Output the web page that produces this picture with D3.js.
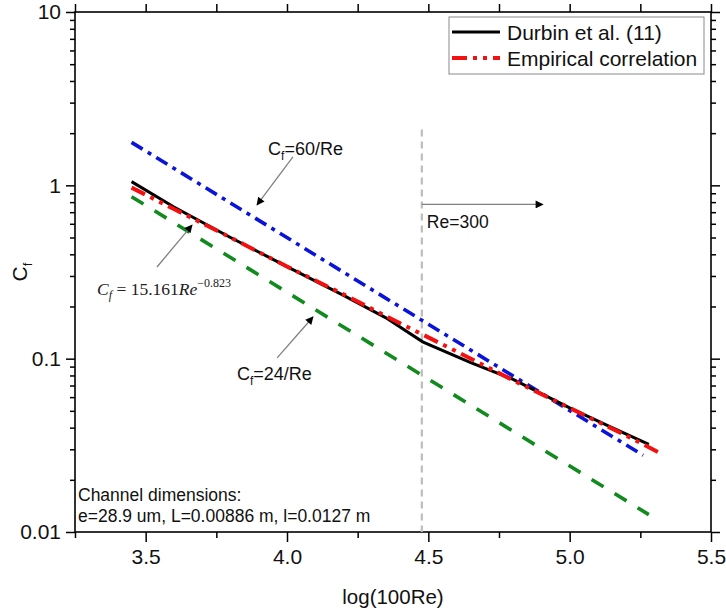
<!DOCTYPE html>
<html>
<head>
<meta charset="utf-8">
<script src="https://cdn.jsdelivr.net/npm/d3@7"></script>
<style>
  body { margin: 0; background: #fff; }
  svg { font-family: "Liberation Sans", Arial, sans-serif; }
</style>
</head>
<body>
<svg id="chart" width="726" height="610"></svg>
<script>
// x = log(100Re), y = Cf (log scale)
var xMajor = [3.5, 4.0, 4.5, 5.0, 5.5];
var xMajorLabels = ["3.5", "4.0", "4.5", "5.0", "5.5"];
var xMinor = [3.25, 3.75, 4.25, 4.75, 5.25];
var yMajor = [0.01, 0.1, 1, 10];
var yMajorLabels = ["0.01", "0.1", "1", "10"];

// Durbin et al. (11)
var durbinX = [3.45, 3.6, 3.8, 4.0, 4.2, 4.35, 4.48, 4.65, 4.8, 5.0, 5.15, 5.28];
var durbinY = [1.05, 0.75, 0.50, 0.34, 0.232, 0.172, 0.125, 0.095, 0.076, 0.052, 0.040, 0.032];
// empirical correlation Cf = 15.161 Re^-0.823
var empX = [3.45, 3.6, 3.8, 4.0, 4.2, 4.4, 4.6, 4.8, 5.0, 5.2, 5.32];
var empY = [0.97, 0.73, 0.50, 0.34, 0.235, 0.16, 0.11, 0.075, 0.052, 0.036, 0.0285];
// Cf = 60/Re
var c60X = [3.45, 4.5, 5.26];
var c60Y = [1.77, 0.158, 0.0277];
// Cf = 24/Re
var c24X = [3.45, 5.28];
var c24Y = [0.86, 0.0126];

var reLineX = 4.477;   // Re = 300
var reLineTop = 2.1;

var margin = {top: 12, left: 75, right: 15, bottom: 78};
var W = 726, H = 610;
var iw = W - margin.left - margin.right;
var ih = H - margin.top - margin.bottom;

var svg = d3.select('#chart');
var g = svg.append('g').attr('transform', 'translate(' + margin.left + ',' + margin.top + ')');

var x = d3.scaleLinear().domain([3.25, 5.5]).range([0, iw]);
var y = d3.scaleLog().domain([0.01, 10]).range([ih, 0]);

var yMinor = y.ticks().filter(function(d) { return yMajor.indexOf(d) < 0; });

function styleAxis(sel) {
	sel.select('.domain').remove();
	sel.selectAll('.tick line').attr('stroke', '#000').attr('stroke-width', 1.5);
	sel.selectAll('.tick text').attr('fill', '#111').style('font-size', '21px')
		.style('font-family', '"Liberation Sans", Arial, sans-serif');
}

// bottom
g.append('g').attr('transform', 'translate(0,' + ih + ')')
	.call(d3.axisBottom(x).tickValues(xMajor).tickSize(10).tickPadding(7)
		.tickFormat(function(d, i) { return xMajorLabels[i]; }))
	.call(styleAxis);
g.append('g').attr('transform', 'translate(0,' + ih + ')')
	.call(d3.axisBottom(x).tickValues(xMinor).tickSize(6).tickFormat(''))
	.call(styleAxis);
// top
g.append('g')
	.call(d3.axisTop(x).tickValues(xMajor.concat(xMinor)).tickSize(8).tickFormat(''))
	.call(styleAxis);
// left
g.append('g')
	.call(d3.axisLeft(y).tickValues(yMajor).tickSize(9).tickPadding(5)
		.tickFormat(function(d, i) { return yMajorLabels[i]; }))
	.call(styleAxis);
g.append('g')
	.call(d3.axisLeft(y).tickValues(yMinor).tickSize(5).tickFormat(''))
	.call(styleAxis);
// right
g.append('g').attr('transform', 'translate(' + iw + ',0)')
	.call(d3.axisRight(y).tickValues(yMajor).tickSize(9).tickFormat(''))
	.call(styleAxis);
g.append('g').attr('transform', 'translate(' + iw + ',0)')
	.call(d3.axisRight(y).tickValues(yMinor).tickSize(5).tickFormat(''))
	.call(styleAxis);

// frame
g.append('rect').attr('width', iw).attr('height', ih)
	.attr('fill', 'none').attr('stroke', '#000').attr('stroke-width', 1.6);

// Re=300 dashed line
g.append('line')
	.attr('x1', x(reLineX)).attr('x2', x(reLineX))
	.attr('y1', y(reLineTop)).attr('y2', ih)
	.attr('stroke', '#bdbdbd').attr('stroke-width', 2.2).attr('stroke-dasharray', '7,5');

var line = d3.line().x(function(d) { return x(d[0]); }).y(function(d) { return y(d[1]); });
function pts(xs, ys) { return xs.map(function(v, i) { return [v, ys[i]]; }); }

var series = [
	{xs: c24X, ys: c24Y, color: '#118a1e', w: 3.6, dash: '14,13'},
	{xs: c60X, ys: c60Y, color: '#0a14d8', w: 3.6, dash: '13,6,4,6'},
	{xs: durbinX, ys: durbinY, color: '#000', w: 3, dash: null},
	{xs: empX, ys: empY, color: '#f21010', w: 4, dash: '15,6,4,6,4,6'}
];
series.forEach(function(s) {
	g.append('path').datum(pts(s.xs, s.ys))
		.attr('d', line).attr('fill', 'none')
		.attr('stroke', s.color).attr('stroke-width', s.w)
		.attr('stroke-dasharray', s.dash);
});

// arrows
var defs = svg.append('defs');
defs.append('marker').attr('id', 'head').attr('viewBox', '0 0 10 10')
	.attr('refX', 9).attr('refY', 5).attr('markerWidth', 11).attr('markerHeight', 8)
	.attr('markerUnits', 'userSpaceOnUse').attr('orient', 'auto')
	.append('path').attr('d', 'M0,0 L10,5 L0,10 Z').attr('fill', '#000');

var arrows = [
	{from: [4.021, 1.46], to: [3.894, 0.771]},
	{from: [3.540, 0.338], to: [3.664, 0.590]},
	{from: [3.965, 0.101], to: [4.092, 0.174]},
	{from: [reLineX, 0.776], to: [4.905, 0.776]}
];
arrows.forEach(function(a) {
	g.append('line')
		.attr('x1', x(a.from[0])).attr('y1', y(a.from[1]))
		.attr('x2', x(a.to[0])).attr('y2', y(a.to[1]))
		.attr('stroke', '#808080').attr('stroke-width', 1.3)
		.attr('marker-end', 'url(#head)');
});

// Cf labels
function cfLabel(px, py, rest) {
	var t = g.append('text').attr('x', x(px)).attr('y', y(py))
		.style('font-size', '18px').attr('fill', '#111');
	t.append('tspan').text('C');
	t.append('tspan').attr('dy', 5).style('font-size', '12px').text('f');
	t.append('tspan').attr('dy', -5).text(rest);
}
cfLabel(3.933, 1.50, '=60/Re');
cfLabel(3.823, 0.0754, '=24/Re');

g.append('text').attr('x', x(reLineX) + 5).attr('y', y(0.567))
	.style('font-size', '17.5px').attr('fill', '#111').text('Re=300');

// equation
var eq = g.append('text').attr('x', x(3.328)).attr('y', y(0.233))
	.style('font-family', '"Liberation Serif", "DejaVu Serif", serif')
	.style('font-size', '17.5px').attr('fill', '#222');
eq.append('tspan').style('font-style', 'italic').text('C');
eq.append('tspan').attr('dy', 4).style('font-size', '12px').style('font-style', 'italic').text('f');
eq.append('tspan').attr('dy', -4).text(' = 15.161');
eq.append('tspan').style('font-style', 'italic').text('Re');
eq.append('tspan').attr('dy', -8).style('font-size', '12px').text('\u22120.823');

// channel dimensions
var ch = g.append('text').style('font-size', '17.5px').attr('fill', '#111');
ch.append('tspan').attr('x', 3).attr('y', ih - 31).text('Channel dimensions:');
ch.append('tspan').attr('x', 3).attr('y', ih - 10).text('e=28.9 um, L=0.00886 m, l=0.0127 m');

// legend
var lg = svg.append('g').attr('transform', 'translate(449,17)');
lg.append('rect').attr('width', 255).attr('height', 57)
	.attr('fill', '#fff').attr('stroke', '#8a8a8a').attr('stroke-width', 1);
var legendItems = [
	{name: 'Durbin et al. (11)', s: series[2]},
	{name: 'Empirical correlation', s: series[3]}
];
legendItems.forEach(function(d, i) {
	var yy = 15 + i * 26;
	lg.append('line').attr('x1', 3).attr('x2', 51).attr('y1', yy).attr('y2', yy)
		.attr('stroke', d.s.color).attr('stroke-width', d.s.w)
		.attr('stroke-dasharray', d.s.dash);
	lg.append('text').attr('x', 58).attr('y', yy + 7.5)
		.style('font-size', '21px').attr('fill', '#111').text(d.name);
});

// axis titles
svg.append('text').attr('x', margin.left + iw / 2).attr('y', 604)
	.attr('text-anchor', 'middle').style('font-size', '20.5px').attr('fill', '#111')
	.text('log(100Re)');
var yl = svg.append('text')
	.attr('transform', 'translate(27,' + (margin.top + ih / 2) + ') rotate(-90)')
	.attr('text-anchor', 'middle').style('font-size', '21px').attr('fill', '#111');
yl.append('tspan').text('C');
yl.append('tspan').attr('dy', 5).style('font-size', '13px').text('f');
</script>
</body>
</html>
